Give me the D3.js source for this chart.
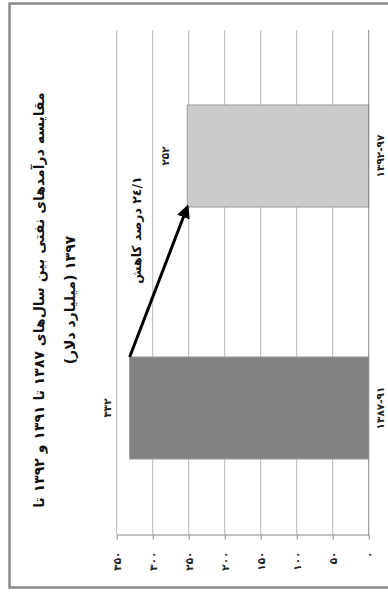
<!DOCTYPE html>
<html><head><meta charset="utf-8">
<script src="https://cdn.jsdelivr.net/npm/d3@7/dist/d3.min.js"></script>
<style>
html,body{margin:0;padding:0;background:#fff;}
svg{display:block;}
text{font-family:"DejaVu Sans",sans-serif;}
</style></head>
<body>
<script>
const categories = ["۱۳۸۷-۹۱", "۱۳۹۲-۹۷"];
const values = [332, 252];
const valueLabels = ["۳۳۲", "۲۵۲"];
const tickValues = [0, 50, 100, 150, 200, 250, 300, 350];
const tickLabels = ["۰", "۵۰", "۱۰۰", "۱۵۰", "۲۰۰", "۲۵۰", "۳۰۰", "۳۵۰"];
const titleLines = ["مقایسه درآمدهای نفتی بین سال‌های ۱۳۸۷ تا ۱۳۹۱ و ۱۳۹۲ تا", "۱۳۹۷ (میلیارد دلار)"];
const arrowLabel = "٢٤/١ درصد کاهش";
const barColors = ["#828282", "#cbcbcb"];

const W = 388, H = 592;
const svg = d3.select("body").append("svg").attr("width", W).attr("height", H);

// outer border
svg.append("rect").attr("x", 9.5).attr("y", 3.5).attr("width", 420).attr("height", 584)
  .attr("fill", "none").attr("stroke", "#8a8a8a").attr("stroke-width", 2.5);

const x = d3.scaleLinear().domain([0, 350]).range([368.7, 116.7]);
const y = d3.scaleBand().domain(categories).range([534, 30]).paddingInner(0.595).paddingOuter(0.2975);

// gridlines
svg.append("g").selectAll("line").data(tickValues.slice(1)).join("line")
  .attr("x1", d => x(d)).attr("x2", d => x(d)).attr("y1", 30).attr("y2", 534)
  .attr("stroke", "#b8b8b8").attr("stroke-width", 1);

// bars
svg.append("g").selectAll("rect").data(values).join("rect")
  .attr("x", d => x(d)).attr("width", d => x(0) - x(d))
  .attr("y", (d, i) => y(categories[i])).attr("height", y.bandwidth())
  .attr("fill", (d, i) => barColors[i]).attr("stroke", "#9a9a9a").attr("stroke-width", 1);

// value axis (bottom)
const ax = svg.append("g").attr("transform", "translate(0,534.5)")
  .call(d3.axisBottom(x).tickValues(tickValues).tickSize(5).tickSizeOuter(0)
    .tickFormat((d, i) => tickLabels[i]));
ax.select(".domain").attr("stroke", "#8a8a8a");
ax.selectAll(".tick line").attr("stroke", "#8a8a8a");
ax.selectAll(".tick text")
  .attr("transform", "translate(0,17) rotate(-90)")
  .attr("x", 0).attr("y", 0).attr("dy", "0.35em")
  .attr("text-anchor", "end")
  .attr("font-size", 10.5).attr("font-weight", "bold").attr("fill", "#222")
  .style("font-family", "'DejaVu Sans',sans-serif");

// category axis line
svg.append("line").attr("x1", x(0)).attr("x2", x(0)).attr("y1", 30).attr("y2", 534.5)
  .attr("stroke", "#8a8a8a").attr("stroke-width", 1);

// category labels
svg.append("g").selectAll("text").data(categories).join("text")
  .attr("transform", d => `translate(${x(0) + 12},${y(d) + y.bandwidth() / 2}) rotate(-90)`)
  .attr("text-anchor", "middle").attr("dy", "0.35em")
  .attr("font-size", 10.5).attr("font-weight", "bold").attr("fill", "#222")
  .text(d => d);

// data labels
svg.append("g").selectAll("text").data(values).join("text")
  .attr("transform", (d, i) => `translate(${x(d) - 22},${y(categories[i]) + y.bandwidth() / 2}) rotate(-90)`)
  .attr("text-anchor", "middle").attr("dy", "0.35em")
  .attr("font-size", 10.5).attr("font-weight", "bold").attr("fill", "#222")
  .text((d, i) => valueLabels[i]);

// arrow
const defs = svg.append("defs");
defs.append("marker").attr("id", "ah").attr("viewBox", "0 0 10 10").attr("refX", 8).attr("refY", 5)
  .attr("markerWidth", 4.5).attr("markerHeight", 4.5).attr("orient", "auto")
  .append("path").attr("d", "M0,0 L10,5 L0,10 z").attr("fill", "#000");
const x1 = x(values[0]), y1 = y(categories[0]);
const x2 = x(values[1]), y2 = y(categories[1]) + y.bandwidth();
svg.append("line").attr("x1", x1).attr("y1", y1).attr("x2", x2).attr("y2", y2)
  .attr("stroke", "#000").attr("stroke-width", 3).attr("marker-end", "url(#ah)");

// arrow label
svg.append("text").attr("transform", "translate(137,230) rotate(-90)")
  .attr("text-anchor", "middle").attr("dy", "0.35em").attr("direction", "rtl")
  .attr("font-size", 12.5).attr("font-weight", "bold").attr("fill", "#111")
  .text(arrowLabel);

// title
const tx = [39, 70];
titleLines.forEach((t, i) => {
  svg.append("text").attr("transform", `translate(${tx[i]},300) rotate(-90)`)
    .attr("text-anchor", "middle").attr("dy", "0.35em").attr("direction", "rtl")
    .attr("font-size", 14).attr("font-weight", "bold").attr("fill", "#111")
    .text(t);
});
</script>
</body></html>
